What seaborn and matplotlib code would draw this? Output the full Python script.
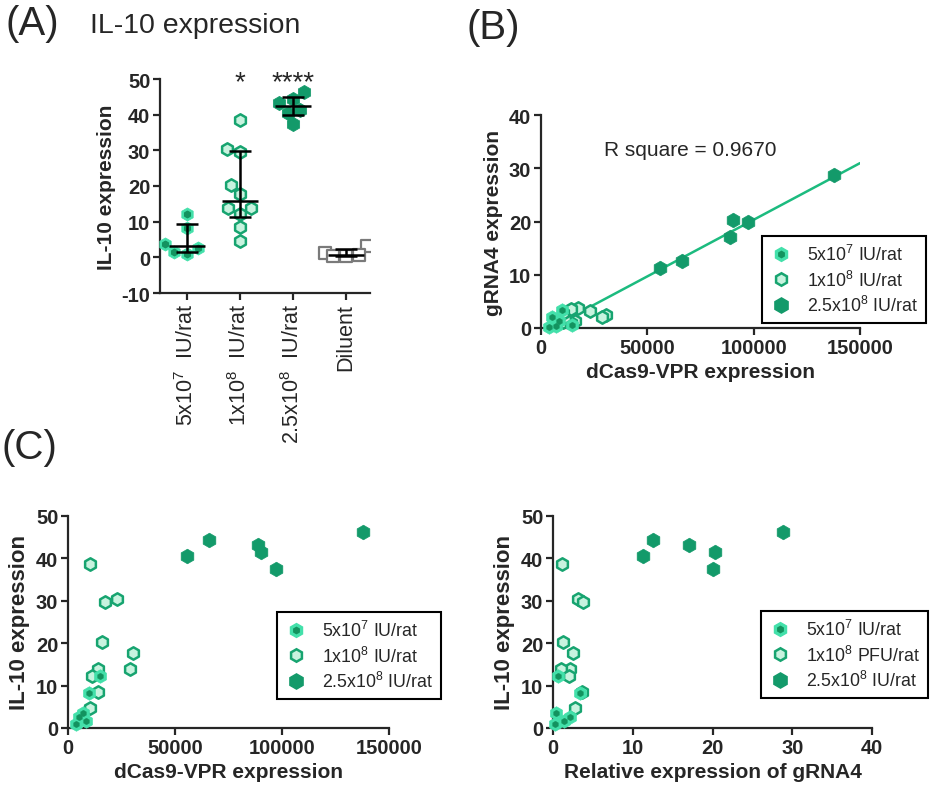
import numpy as np
import pandas as pd
import matplotlib
matplotlib.use("Agg")
import matplotlib.pyplot as plt
import seaborn as sns
from matplotlib.lines import Line2D
from matplotlib.legend_handler import HandlerTuple

# dose groups (panel A categories)
groups = ["5x10$^7$  IU/rat", "1x10$^8$  IU/rat", "2.5x10$^8$  IU/rat", "Diluent"]
legend_b = ["5x10$^7$ IU/rat", "1x10$^8$ IU/rat", "2.5x10$^8$ IU/rat"]
legend_c2 = ["5x10$^7$ IU/rat", "1x10$^8$ PFU/rat", "2.5x10$^8$ IU/rat"]

# IL-10 expression per rat
il10_low = [12.2, 8.3, 3.6, 2.6, 1.6, 1.0]
il10_mid = [38.6, 30.4, 29.6, 20.4, 17.7, 13.8, 13.8, 12.2, 8.6, 4.7]
il10_high = [40.6, 44.4, 43.2, 41.4, 37.4, 46.3]
il10_dil = [3.3, 1.1, 0.7, 0.5, 0.3]

# dCas9-VPR expression per rat
dcas9_low = [14800, 9900, 7000, 5300, 8500, 3700]
dcas9_mid = [10200, 23100, 17500, 16000, 30500, 28800, 14100, 11400, 14000, 10500]
dcas9_high = [55800, 66100, 88700, 90300, 97300, 138000]

# gRNA4 expression per rat
grna4_low = [0.6, 3.4, 0.4, 2.1, 1.4, 0.2]
grna4_mid = [1.1, 3.1, 3.75, 1.25, 2.5, 2.1, 1.0, 2.0, 3.6, 2.8]
grna4_high = [11.3, 12.5, 17.05, 20.3, 20.0, 28.8]

mint = "#43e0aa"
dot = "#13935f"
pale = "#c8f3df"
edge = "#17a470"
dark = "#139a6a"
line_c = "#1cbb7f"
grey = "#7a7a7a"

sns.set_style("ticks")
plt.rcParams["font.family"] = ["Liberation Sans", "DejaVu Sans"]
plt.rcParams["mathtext.fontset"] = "custom"
plt.rcParams["mathtext.rm"] = "Liberation Sans"
plt.rcParams["mathtext.default"] = "regular"
plt.rcParams["axes.unicode_minus"] = False
plt.rcParams["axes.linewidth"] = 1.6
plt.rcParams["xtick.major.width"] = 1.6
plt.rcParams["ytick.major.width"] = 1.6
plt.rcParams["xtick.major.size"] = 5
plt.rcParams["ytick.major.size"] = 5

# long tables
scat = pd.DataFrame({
    "dose": ["low"] * len(il10_low) + ["mid"] * len(il10_mid) + ["high"] * len(il10_high),
    "il10": il10_low + il10_mid + il10_high,
    "dcas9": dcas9_low + dcas9_mid + dcas9_high,
    "grna4": grna4_low + grna4_mid + grna4_high,
})
dfa = pd.DataFrame({
    "group": [groups[0]] * len(il10_low) + [groups[1]] * len(il10_mid)
    + [groups[2]] * len(il10_high) + [groups[3]] * len(il10_dil),
    "il10": il10_low + il10_mid + il10_high + il10_dil,
})

fig = plt.figure(figsize=(9.3, 8.03), dpi=100)
W, H = 930, 803


def add_ax(x0, y0, x1, y1):
    return fig.add_axes([x0 / W, 1 - y1 / H, (x1 - x0) / W, (y1 - y0) / H])


axA = add_ax(160, 80, 370, 294)
axB = add_ax(541, 116, 860, 329)
axC1 = add_ax(68, 517, 389, 729)
axC2 = add_ax(553, 517, 872, 729)

TICK = 14.5
LAB = 15


def style(ax):
    sns.despine(ax=ax)
    for lab in ax.get_xticklabels() + ax.get_yticklabels():
        lab.set_fontweight("bold")
        lab.set_fontsize(TICK)
    ax.tick_params(axis="both", pad=2)


# ---- panel A: swarm layout from seaborn, then restyled markers
swarm = {}
new_colls = []
for g in groups:
    n0 = len(axA.collections)
    sns.swarmplot(data=dfa[dfa.group == g], x="group", y="il10", order=groups,
                  size=9, color="grey", ax=axA)
    added = axA.collections[n0:]
    new_colls += added
    swarm[g] = [c for c in added if len(c.get_offsets()) > 0][0]
axA.set_ylim(-10, 50)
axA.set_xlim(-0.5, 3.45)
fig.canvas.draw()
offs = [swarm[g].get_offsets().copy() for g in groups]
for c in new_colls:
    c.remove()

axA.scatter(offs[0][:, 0], offs[0][:, 1], marker="h", s=90, color=mint, edgecolor=mint,
            lw=0.5, zorder=3, clip_on=False)
axA.scatter(offs[0][:, 0], offs[0][:, 1], marker="h", s=22, color=dot, zorder=4, clip_on=False)
axA.scatter(offs[1][:, 0], offs[1][:, 1], marker="h", s=80, color=pale, edgecolor=edge,
            lw=1.8, zorder=3)
axA.scatter(offs[2][:, 0], offs[2][:, 1], marker="h", s=105, color=dark, edgecolor=dark,
            lw=0.5, zorder=3)
axA.scatter(offs[3][:, 0], offs[3][:, 1], marker="s", s=65, color="white", edgecolor=grey,
            lw=1.6, zorder=3)

for i, g in enumerate(groups):
    v = dfa.loc[dfa.group == g, "il10"].to_numpy()
    med = np.median(v)
    q1, q3 = np.percentile(v, [25, 75], method="weibull")
    axA.errorbar(i, med, yerr=[[med - q1], [q3 - med]], color="black", lw=1.8,
                 capsize=8, capthick=1.8, zorder=5)
    axA.hlines(med, i - 0.34, i + 0.34, color="black", lw=1.8, zorder=5)

axA.text(1, 49, "*", ha="center", va="center", fontsize=20)
axA.text(2, 49, "****", ha="center", va="center", fontsize=20)
axA.set_yticks(range(-10, 51, 10))
axA.set_xlabel("")
axA.set_ylabel("IL-10 expression", fontsize=LAB, fontweight="bold")
style(axA)
for lab in axA.get_xticklabels():
    lab.set_rotation(90)
    lab.set_fontweight("normal")
    lab.set_fontsize(15.5)


# ---- scatter panels
def draw_groups(ax, xcol, ycol):
    kw = dict(ax=ax, marker="h", clip_on=False, legend=False)
    sns.scatterplot(data=scat[scat.dose == "mid"], x=xcol, y=ycol, s=80,
                    color=pale, edgecolor=edge, linewidth=1.8, zorder=3, **kw)
    sns.scatterplot(data=scat[scat.dose == "high"], x=xcol, y=ycol, s=110,
                    color=dark, edgecolor=dark, linewidth=0.5, zorder=3, **kw)
    sns.scatterplot(data=scat[scat.dose == "low"], x=xcol, y=ycol, s=95,
                    color=mint, edgecolor=mint, linewidth=0.5, zorder=4, **kw)
    sns.scatterplot(data=scat[scat.dose == "low"], x=xcol, y=ycol, s=22,
                    color=dot, edgecolor=dot, linewidth=0.3, zorder=4, **kw)


handles = [
    (Line2D([], [], marker="h", ls="none", ms=10, mfc=mint, mec=mint),
     Line2D([], [], marker="h", ls="none", ms=4.5, mfc=dot, mec=dot)),
    Line2D([], [], marker="h", ls="none", ms=9, mfc=pale, mec=edge, mew=1.8),
    Line2D([], [], marker="h", ls="none", ms=11, mfc=dark, mec=dark),
]


def add_legend(ax, labels, x0, y0):
    leg = ax.legend(handles, labels, handler_map={tuple: HandlerTuple(ndivide=1)},
                    loc="upper left", bbox_to_anchor=(x0 / W, 1 - y0 / H),
                    bbox_transform=fig.transFigure, frameon=True, fancybox=False,
                    edgecolor="black", framealpha=1, fontsize=12.8,
                    handletextpad=0.9, borderpad=0.45, labelspacing=0.3,
                    handlelength=1.2, borderaxespad=0)
    leg.get_frame().set_linewidth(1.5)


# ---- panel B
axB.set_xlim(0, 150000)
axB.set_ylim(0, 40)
sns.regplot(data=scat, x="dcas9", y="grna4", scatter=False, ci=None, truncate=False,
            color=line_c, line_kws=dict(lw=1.8, zorder=2), ax=axB)
draw_groups(axB, "dcas9", "grna4")
axB.set_xlim(0, 150000)
axB.set_ylim(0, 40)
axB.set_xticks([0, 50000, 100000, 150000])
axB.set_yticks([0, 10, 20, 30, 40])
axB.text(70000, 33.6, "R square = 0.9670", ha="center", va="center", fontsize=15)
axB.set_xlabel("dCas9-VPR expression", fontsize=LAB, fontweight="bold")
axB.set_ylabel("gRNA4 expression", fontsize=LAB, fontweight="bold")
style(axB)
add_legend(axB, legend_b, 762, 237)

# ---- panel C left
draw_groups(axC1, "dcas9", "il10")
axC1.set_xlim(0, 150000)
axC1.set_ylim(0, 50)
axC1.set_xticks([0, 50000, 100000, 150000])
axC1.set_yticks(range(0, 51, 10))
axC1.set_xlabel("dCas9-VPR expression", fontsize=LAB, fontweight="bold")
axC1.set_ylabel("IL-10 expression", fontsize=LAB + 1, fontweight="bold")
style(axC1)
add_legend(axC1, legend_b, 277, 613)

# ---- panel C right
draw_groups(axC2, "grna4", "il10")
axC2.set_xlim(0, 40)
axC2.set_ylim(0, 50)
axC2.set_xticks(range(0, 41, 10))
axC2.set_yticks(range(0, 51, 10))
axC2.set_xlabel("Relative expression of gRNA4", fontsize=LAB, fontweight="bold")
axC2.set_ylabel("IL-10 expression", fontsize=LAB + 1, fontweight="bold")
style(axC2)
add_legend(axC2, legend_c2, 761, 612)

# panel letters and title
fig.text(5 / W, 1 - 24 / H, "(A)", fontsize=29, va="center")
fig.text(90 / W, 1 - 26 / H, "IL-10 expression", fontsize=20.5, va="center")
fig.text(466 / W, 1 - 28 / H, "(B)", fontsize=29, va="center")
fig.text(2 / W, 1 - 448 / H, "(C)", fontsize=29, va="center")

fig.savefig("out.png", dpi=100)
